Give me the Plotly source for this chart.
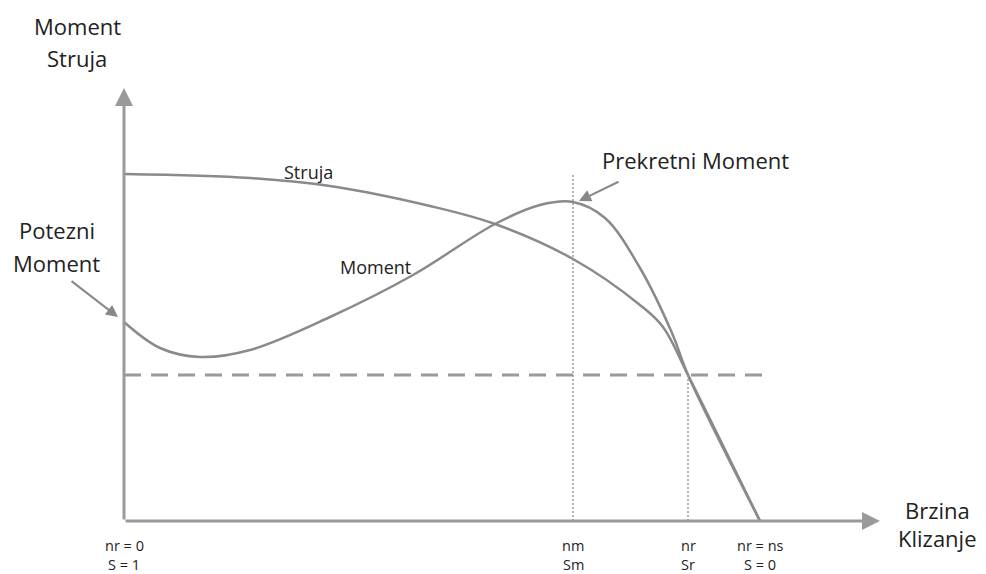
import plotly.graph_objects as go

# Data in chart units (origin at the axes' corner)
struja_x = [0, 126, 206, 306, 371, 449, 516, 539, 564, 636]
struja_y = [347, 343, 335, 315, 297, 262, 216, 194, 146, 0]

moment_x = [0, 36, 76, 126, 206, 289, 371, 416, 449, 481, 516, 548, 564, 636]
moment_y = [199, 173, 164, 171, 204, 246, 297, 316, 319, 303, 253, 188, 146, 0]

tick_x = [0, 449, 564, 636]
tick_line1 = ["nr = 0", "nm", "nr", "nr = ns"]
tick_line2 = ["S = 1", "Sm", "Sr", "S = 0"]

rated_level = 146
nm_peak = 346
x_end = 756
y_end = 433
dash_end = 641

FONT = "Open Sans"
GRAY = "#9a9a9a"
CURVE = "#8a8a8a"
TXT = "#222222"

fig = go.Figure()
fig.add_trace(go.Scatter(x=struja_x, y=struja_y, mode="lines", line=dict(color=CURVE, width=2.5, shape="spline", smoothing=1), hoverinfo="skip"))
fig.add_trace(go.Scatter(x=moment_x, y=moment_y, mode="lines", line=dict(color=CURVE, width=2.5, shape="spline", smoothing=1), hoverinfo="skip"))

# dashed rated line
fig.add_trace(go.Scatter(x=[0, dash_end], y=[rated_level, rated_level], mode="lines",
                         line=dict(color=GRAY, width=3, dash="17px,10px"), hoverinfo="skip"))
# dotted verticals
fig.add_trace(go.Scatter(x=[tick_x[1], tick_x[1]], y=[0, nm_peak], mode="lines",
                         line=dict(color=GRAY, width=1.5, dash="2px,2px"), hoverinfo="skip"))
fig.add_trace(go.Scatter(x=[tick_x[2], tick_x[2]], y=[0, rated_level], mode="lines",
                         line=dict(color=GRAY, width=1.5, dash="2px,2px"), hoverinfo="skip"))

anns = []
# axes arrows
anns.append(dict(x=x_end, y=0, ax=0, ay=0, xref="x", yref="y", axref="x", ayref="y", text="",
                 showarrow=True, arrowhead=2, arrowsize=1.2, arrowwidth=3, arrowcolor=GRAY))
anns.append(dict(x=0, y=y_end, ax=0, ay=0, xref="x", yref="y", axref="x", ayref="y", text="",
                 showarrow=True, arrowhead=2, arrowsize=1.2, arrowwidth=3, arrowcolor=GRAY))
# pointer arrows
anns.append(dict(x=-6, y=204, ax=-54, ay=241, xref="x", yref="y", axref="x", ayref="y", text="",
                 showarrow=True, arrowhead=2, arrowsize=1.2, arrowwidth=2, arrowcolor="#888888"))
anns.append(dict(x=455, y=320, ax=496, ay=340, xref="x", yref="y", axref="x", ayref="y", text="",
                 showarrow=True, arrowhead=2, arrowsize=1.2, arrowwidth=2, arrowcolor="#888888"))

def label(x, y, text, size):
    anns.append(dict(x=x, y=y, xref="x", yref="y", text=text, showarrow=False,
                     font=dict(family=FONT, size=size, color=TXT), align="center",
                     xanchor="center", yanchor="middle"))

for tx, l1, l2 in zip(tick_x, tick_line1, tick_line2):
    label(tx, -24, l1, 14.5)
    label(tx, -43, l2, 14.5)

label(-47, 495, "Moment", 22)
label(-47, 463, "Struja", 22)
label(-67, 291, "Potezni", 22)
label(-68, 258, "Moment", 22)
label(571, 361, "Prekretni Moment", 22)
label(813, 11, "Brzina", 22)
label(813, -17, "Klizanje", 22)
label(184, 349, "Struja", 18)
label(251, 254, "Moment", 18)

# page body has an 8px margin: size the figure to fill the rest of the window
fig.update_layout(
    width=978, height=566,
    margin=dict(l=0, r=0, t=0, b=0),
    paper_bgcolor="white", plot_bgcolor="white",
    showlegend=False,
    xaxis=dict(range=[-116, 862], visible=False, fixedrange=True),
    yaxis=dict(range=[-53, 513], visible=False, fixedrange=True),
    annotations=anns,
)
fig.write_html("out.html")
